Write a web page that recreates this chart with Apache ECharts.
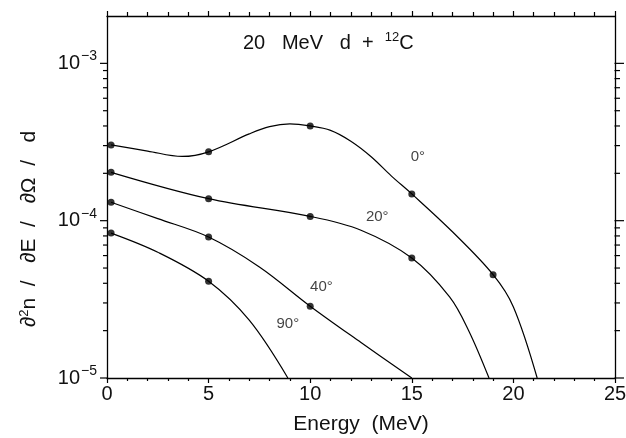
<!DOCTYPE html>
<html>
<head>
<meta charset="utf-8">
<script src="https://cdn.jsdelivr.net/npm/echarts@6/dist/echarts.min.js"></script>
<style>
  html, body { margin: 0; padding: 0; background: #fff; }
  #chart { width: 626px; height: 438px; }
</style>
</head>
<body>
<div id="chart"></div>
<script>
// Neutron double-differential spectra, 20 MeV deuterons on 12C
const angles = ['0°', '20°', '40°', '90°'];

// measured points (E in MeV, yield)
const points0  = [[0.2, 3.03e-4], [5, 2.74e-4], [10, 4.0e-4], [15, 1.48e-4], [19, 4.54e-5]];
const points20 = [[0.2, 2.03e-4], [5, 1.38e-4], [10, 1.065e-4], [15, 5.79e-5]];
const points40 = [[0.2, 1.31e-4], [5, 7.87e-5], [10, 2.86e-5]];
const points90 = [[0.2, 8.34e-5], [5, 4.12e-5]];

// fitted curves through the measurements, down to the lower edge
const curve0  = [[0.2, 3.03e-4], [2, 2.77e-4], [3.7, 2.56e-4], [5, 2.74e-4], [7, 3.56e-4], [8, 3.96e-4],
                 [9, 4.12e-4], [10, 4.0e-4], [11, 3.75e-4], [12, 3.2e-4], [13, 2.55e-4], [14, 1.92e-4],
                 [15, 1.48e-4], [17, 8.5e-5], [19, 4.54e-5], [20, 2.83e-5], [21.17, 1.0e-5]];
const curve20 = [[0.2, 2.03e-4], [5, 1.38e-4], [10, 1.065e-4], [12.5, 8.7e-5], [15, 5.79e-5],
                 [16.86, 3.28e-5], [17.8, 2.0e-5], [18.8, 1.0e-5]];
const curve40 = [[0.2, 1.31e-4], [2.5, 1.03e-4], [5, 7.87e-5], [7.5, 5.08e-5], [10, 2.86e-5],
                 [12.5, 1.68e-5], [15, 1.0e-5]];
const curve90 = [[0.2, 8.34e-5], [2.5, 6.3e-5], [5, 4.12e-5], [7, 2.33e-5], [8.9, 1.0e-5]];

// axes
const xRange = [0, 25];
const xMajor = 5;
const yRange = [1e-5, 2e-3];
const yDecades = [1e-5, 1e-4, 1e-3];
const yMultiples = [1, 2, 3, 4, 5, 6, 7, 8, 9];

const FONT = '"Liberation Sans", Arial, sans-serif';
const INK = '#111';

// tick values of the log axis: [value, isMajor]
const yTicks = [];
yDecades.forEach(d => yMultiples.forEach(m => {
  const v = d * m;
  if (v < yRange[1] * 0.999) yTicks.push([v, m === 1]);
}));

const chart = echarts.init(document.getElementById('chart'), null, { renderer: 'canvas' });

const curves = [curve0, curve20, curve40, curve90];
const points = [points0, points20, points40, points90];
const labelAt = [[15.3, 2.56e-4], [13.3, 1.05e-4], [10.55, 3.79e-5], [8.9, 2.2e-5]];

const series = [];
curves.forEach((c, i) => {
  series.push({
    type: 'line', name: angles[i], data: c, smooth: 0.35, showSymbol: false,
    lineStyle: { color: '#000', width: 1.2 }, silent: true, animation: false, z: 3
  });
});
points.forEach(p => {
  series.push({
    type: 'scatter', data: p, symbol: 'circle', symbolSize: 7,
    itemStyle: { color: '#000' }, animation: false, z: 4
  });
});
series.push({
  type: 'scatter', symbolSize: 0, animation: false, z: 5,
  data: angles.map((a, i) => ({ name: a, value: labelAt[i] })),
  label: { show: true, position: 'inside', formatter: p => p.name,
           fontFamily: FONT, fontSize: 15, color: INK }
});

const axisLine = { show: true, onZero: false, lineStyle: { color: '#000', width: 1.3 } };

const yLabelGraphic = {
  type: 'text', x: 29, y: 229, rotation: Math.PI / 2, z: 20,
  style: {
    text: '{a|\u2202}{s|2}{a|n  /   \u2202E  /   \u2202\u03A9  /   d}',
    align: 'center', verticalAlign: 'middle',
    rich: {
      a: { fontFamily: FONT, fontSize: 21, fill: INK, color: INK },
      s: { fontFamily: FONT, fontSize: 13, fill: INK, color: INK, padding: [0, 0, 10, 0] }
    }
  }
};

chart.setOption({
  backgroundColor: '#fff',
  animation: false,
  title: {
    text: '{a|20   MeV   d  +  }{s|12}{a|C}',
    left: 238, top: 26,
    textStyle: {
      fontWeight: 'normal',
      rich: {
        a: { fontFamily: FONT, fontSize: 20, fontWeight: 'normal', color: INK },
        s: { fontFamily: FONT, fontSize: 13, fontWeight: 'normal', color: INK, padding: [0, 0, 12, 0] }
      }
    }
  },
  grid: { left: 107, right: 11, top: 16, bottom: 60, outerBoundsMode: 'none', containLabel: false },
  xAxis: [
    {
      type: 'value', min: xRange[0], max: xRange[1], interval: xMajor, position: 'bottom',
      axisLine, splitLine: { show: false },
      axisTick: { show: true, inside: false, length: 5, lineStyle: { color: '#000', width: 1.2 } },
      minorTick: { show: true, splitNumber: 5, length: 3, lineStyle: { color: '#000', width: 1.2 } },
      axisLabel: { fontFamily: FONT, fontSize: 20, color: INK, margin: 6 },
      name: 'Energy  (MeV)', nameLocation: 'middle', nameGap: 36,
      nameTextStyle: { fontFamily: FONT, fontSize: 21, color: INK }
    },
    {
      type: 'value', min: xRange[0], max: xRange[1], interval: xMajor, position: 'top',
      axisLine, splitLine: { show: false },
      axisTick: { show: true, inside: false, length: 5, lineStyle: { color: '#000', width: 1.2 } },
      minorTick: { show: true, splitNumber: 5, length: 4, lineStyle: { color: '#000', width: 1.2 } },
      axisLabel: { show: false }
    }
  ],
  yAxis: [
    {
      type: 'log', logBase: 10, min: yRange[0], max: yRange[1], position: 'left',
      axisLine, splitLine: { show: false }, axisTick: { show: false }, minorTick: { show: false },
      axisLabel: {
        margin: 10,
        formatter: v => {
          const e = Math.log10(v);
          const r = Math.round(e);
          if (Math.abs(e - r) > 1e-6) return '';
          return '{b|10}{s|\u2212' + (-r) + '}';
        },
        rich: {
          b: { fontFamily: FONT, fontSize: 20, color: INK },
          s: { fontFamily: FONT, fontSize: 14, color: INK, padding: [0, 0, 14, 1] }
        }
      }
    },
    {
      type: 'log', logBase: 10, min: yRange[0], max: yRange[1], position: 'right',
      axisLine, splitLine: { show: false }, axisTick: { show: false }, minorTick: { show: false },
      axisLabel: { show: false }
    }
  ],
  graphic: [yLabelGraphic],
  series
});

// decade and sub-decade tick marks on both sides of the frame, placed via the axis scales
const xLeft = chart.convertToPixel({ xAxisIndex: 0 }, xRange[0]);
const xRight = chart.convertToPixel({ xAxisIndex: 0 }, xRange[1]);
const tickMarks = [];
yTicks.forEach(([v, major]) => {
  const y = chart.convertToPixel({ yAxisIndex: 0 }, v);
  const lenL = major ? 7 : 4;
  const lenR = major ? 9 : 5;
  tickMarks.push({ type: 'rect', zlevel: 1, z: 50, silent: true,
    shape: { x: xLeft - lenL, y: y - 0.6, width: lenL + 0.5, height: 1.2 },
    style: { fill: '#000' } });
  tickMarks.push({ type: 'rect', zlevel: 1, z: 50, silent: true,
    shape: { x: xRight - 0.5, y: y - 0.6, width: lenR + 0.5, height: 1.2 },
    style: { fill: '#000' } });
});
chart.setOption({ graphic: [yLabelGraphic].concat(tickMarks) }, { replaceMerge: ['graphic'] });
</script>
</body>
</html>
